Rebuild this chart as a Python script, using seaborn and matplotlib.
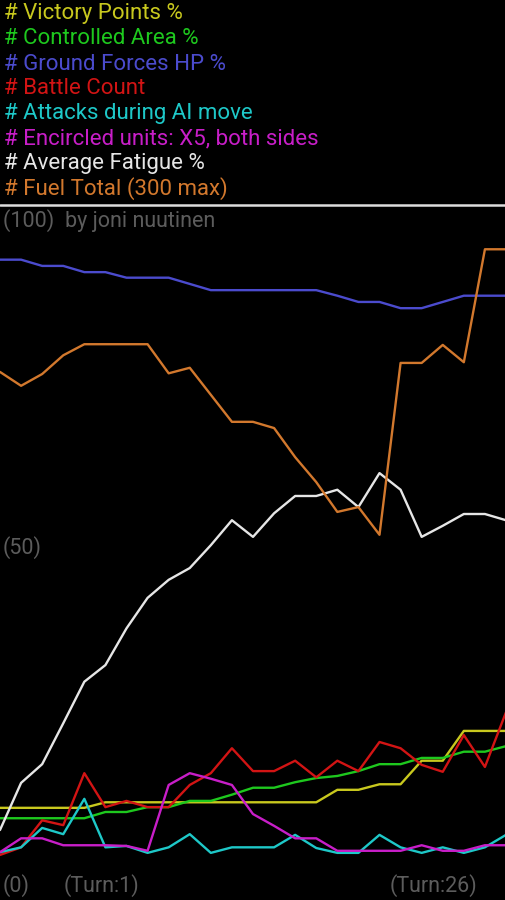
import matplotlib
matplotlib.use("Agg")
import matplotlib.pyplot as plt
import numpy as np
import pandas as pd
import seaborn as sns

# turns shown on the x axis
turns = list(range(1, 26))

# series values, all in percent of the chart height
victory_points = [13.3, 13.3, 13.3, 13.3, 13.3, 14.1, 14.1, 14.1, 14.1, 14.1, 14.1, 14.1, 14.1,
                  14.1, 14.1, 14.1, 15.9, 15.9, 16.7, 16.7, 20.1, 20.1, 24.4, 24.4, 24.4]
controlled_area = [11.8, 11.8, 11.8, 11.8, 11.8, 12.7, 12.7, 13.4, 13.4, 14.3, 14.3, 15.2, 16.2,
                   16.2, 17.0, 17.6, 17.9, 18.6, 19.6, 19.6, 20.5, 20.5, 21.4, 21.4, 22.2]
ground_forces = [92.4, 92.4, 91.5, 91.5, 90.6, 90.6, 89.8, 89.8, 89.8, 88.9, 88.0, 88.0, 88.0,
                 88.0, 88.0, 88.0, 87.2, 86.3, 86.3, 85.4, 85.4, 86.3, 87.2, 87.2, 87.2]
battle_count = [6.5, 7.6, 11.5, 10.8, 18.3, 13.4, 14.3, 13.4, 13.4, 16.6, 18.3, 21.9, 18.6,
                18.6, 20.1, 17.7, 20.1, 18.6, 22.8, 21.9, 19.5, 18.5, 23.8, 19.2, 27.1]
ai_attacks = [6.9, 7.6, 10.4, 9.5, 14.6, 7.6, 7.8, 6.8, 7.6, 9.5, 6.8, 7.6, 7.6,
              7.6, 9.4, 7.5, 6.8, 6.8, 9.4, 7.6, 6.8, 7.6, 6.8, 7.6, 9.4]
encircled = [6.9, 8.9, 8.9, 7.9, 7.9, 7.9, 7.8, 7.1, 16.6, 18.3, 17.5, 16.6, 12.4,
             10.7, 8.9, 8.9, 7.1, 7.1, 7.1, 7.1, 7.9, 7.1, 7.1, 7.9, 7.9]
fatigue = [10.1, 16.9, 19.6, 25.5, 31.5, 33.9, 39.2, 43.6, 46.2, 47.9, 51.2, 54.8, 52.4,
           55.8, 58.3, 58.3, 59.2, 56.7, 61.6, 59.2, 52.4, 54.0, 55.7, 55.7, 54.8]
fuel_total = [76.2, 74.2, 75.9, 78.6, 80.2, 80.2, 80.2, 80.2, 76.0, 76.8, 72.9, 69.0, 69.0,
              68.1, 63.9, 60.3, 56.0, 56.7, 52.7, 77.5, 77.5, 80.1, 77.6, 93.9, 93.9]

series_names = ["Victory Points %", "Controlled Area %", "Ground Forces HP %", "Battle Count",
                "Attacks during AI move", "Encircled units: X5, both sides",
                "Average Fatigue %", "Fuel Total (300 max)"]
series_values = [victory_points, controlled_area, ground_forces, battle_count,
                 ai_attacks, encircled, fatigue, fuel_total]
series_colors = ["#c8c81e", "#1ec81e", "#4b4bcd", "#d21414",
                 "#1ec8c8", "#c81ec8", "#e6e6e6", "#d2782d"]

df = pd.concat(
    [pd.DataFrame({"turn": turns, "value": vals, "serie": name})
     for name, vals in zip(series_names, series_values)],
    ignore_index=True,
)

sns.set_style("dark")
plt.rcParams["font.family"] = ["Roboto", "DejaVu Sans"]

fig = plt.figure(figsize=(5.06, 9.0), dpi=100, facecolor="black")
ax = fig.add_axes([0, 0, 1, 693 / 900])
ax.set_facecolor("black")

sns.lineplot(data=df, x="turn", y="value", hue="serie", hue_order=series_names,
             palette=dict(zip(series_names, series_colors)), linewidth=1.7,
             legend=False, ax=ax)

ax.set_xlim(turns[0], turns[-1])
ax.set_ylim(0, 100)
ax.set_xticks([])
ax.set_yticks([])
ax.set_xlabel("")
ax.set_ylabel("")
ax.grid(False)
for s in ax.spines.values():
    s.set_visible(False)

# header with the coloured series names
for i, (name, col) in enumerate(zip(series_names, series_colors)):
    fig.text(0.008, 1 - (14 + 25 * i) / 900, "# " + name, color=col,
             fontsize=16, va="center", ha="left")

# separator line under the header
fig.add_artist(plt.Line2D([0, 1], [1 - 205 / 900] * 2, color="#dddddd", linewidth=1.8))

grey = "#5c5c5c"
fs = 15.5
fig.text(0.006, 1 - 221 / 900, "(100)  by joni nuutinen", color=grey, fontsize=fs, va="center")
fig.text(0.006, 1 - 548 / 900, "(50)", color=grey, fontsize=fs, va="center")
fig.text(0.006, 1 - 886 / 900, "(0)", color=grey, fontsize=fs, va="center")
fig.text(64 / 506, 1 - 886 / 900, "(Turn:1)", color=grey, fontsize=fs, va="center")
fig.text(390 / 506, 1 - 886 / 900, "(Turn:26)", color=grey, fontsize=fs, va="center")

fig.savefig("out.png", dpi=100, facecolor="black")
